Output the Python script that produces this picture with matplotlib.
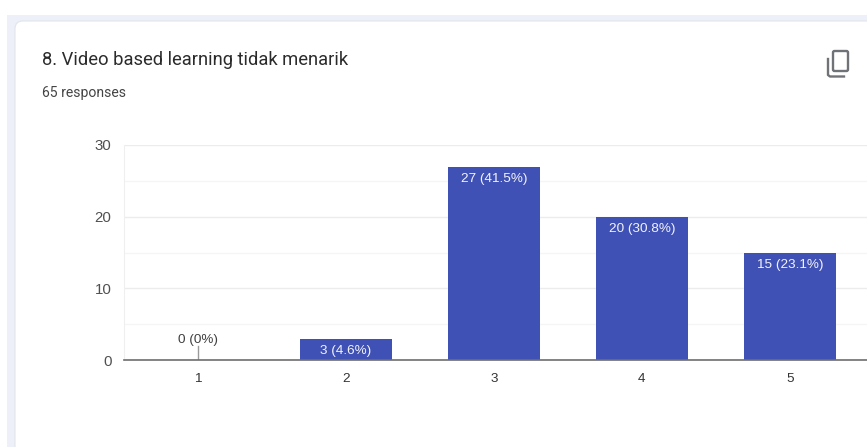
import matplotlib.pyplot as plt
from matplotlib.patches import FancyBboxPatch, Rectangle

categories = ["1", "2", "3", "4", "5"]
counts = [0, 3, 27, 20, 15]
bar_labels = ["0 (0%)", "3 (4.6%)", "27 (41.5%)", "20 (30.8%)", "15 (23.1%)"]
y_ticks = [0, 10, 20, 30]
minor_ticks = [5, 15, 25]
title = "8. Video based learning tidak menarik"
subtitle = "65 responses"

W, H = 867, 447
BAR_COLOR = "#3f51b5"


def px_x(x):
    return x / W


def px_y(y):
    return 1 - y / H


fig = plt.figure(figsize=(W / 100, H / 100), dpi=100, facecolor="white")

# page background behind the card
fig.patches.append(Rectangle((px_x(7), 0), 1 - px_x(7), px_y(15), transform=fig.transFigure,
                             facecolor="#edeff9", edgecolor="none"))
card = FancyBboxPatch((15, -30), 900, 30 + H - 21, boxstyle="round,pad=0,rounding_size=8",
                      transform=None, facecolor="white", edgecolor="#e3e5ea", linewidth=0.8)
fig.patches.append(card)

# the reference crops the plot at the right edge, so the axes run off to the image border
ax = fig.add_axes([px_x(124), px_y(360), 743 / W, 215 / H], zorder=5)
ax.patch.set_alpha(0)
ax.set_xlim(-0.5, 743 / 148 - 0.5)
ax.set_ylim(0, 30)

x_pos = list(range(len(categories)))
ax.bar(x_pos, counts, width=92 / 148, color=BAR_COLOR, zorder=3)

for x, val, label in zip(x_pos, counts, bar_labels):
    if val == 0:
        # empty category gets a small stem and the label above it
        ax.plot([x, x], [0, 2], color="#9a9a9a", linewidth=1, zorder=3)
        ax.text(x, 2.0, label, ha="center", va="bottom", fontsize=9.7,
                family="Liberation Sans", color="#404040")
    else:
        ax.text(x, val - 0.85, label, ha="center", va="top", fontsize=9.7,
                family="Liberation Sans", color="#f2f3fa", zorder=4)

ax.set_xticks(x_pos)
ax.set_xticklabels(categories, family="Liberation Sans", fontsize=9.7, color="#333333")
ax.set_yticks(y_ticks)
ax.set_yticklabels([str(t) for t in y_ticks], family="Liberation Sans", fontsize=10.8, color="#505050")
ax.set_yticks(minor_ticks, minor=True)
ax.tick_params(axis="both", which="both", length=0)
ax.tick_params(axis="x", pad=9.5)
ax.tick_params(axis="y", pad=9)
ax.grid(True, axis="y", which="major", color="#ececec", linewidth=1, zorder=0)
ax.grid(True, axis="y", which="minor", color="#f5f5f5", linewidth=1, zorder=0)

for side in ["top", "right"]:
    ax.spines[side].set_visible(False)
ax.spines["left"].set_color("#efefef")
ax.spines["bottom"].set_color("#6e6e6e")
ax.spines["bottom"].set_linewidth(1.2)
ax.spines["bottom"].set_zorder(5)

fig.text(px_x(42), px_y(60), title, family="Roboto", fontsize=13.2, color="#2b2b2b",
         ha="left", va="center")
fig.text(px_x(42), px_y(93), subtitle, family="Roboto", fontsize=10.1, color="#444444",
         ha="left", va="center")

# copy icon, top right
icon_color = "#6f7276"
fig.patches.append(FancyBboxPatch((833, H - 71), 15, 20, boxstyle="round,pad=0,rounding_size=1.5",
                                  transform=None, facecolor="none", edgecolor=icon_color, linewidth=1.7))
fig.lines.append(plt.Line2D([px_x(828), px_x(828), px_x(830), px_x(844)],
                            [px_y(59), px_y(75), px_y(76.5), px_y(76.5)],
                            transform=fig.transFigure, color=icon_color, linewidth=1.7))

fig.savefig("out.png", dpi=100)
